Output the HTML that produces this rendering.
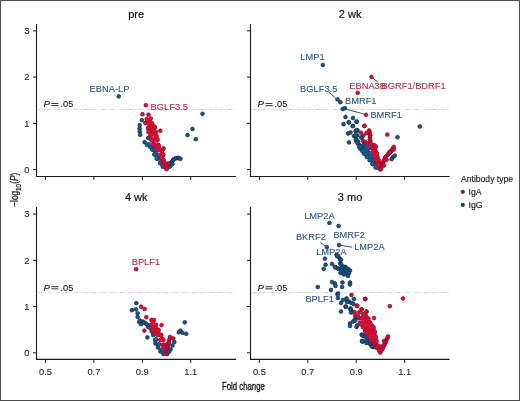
<!DOCTYPE html>
<html><head><meta charset="utf-8"><style>
html,body{margin:0;padding:0;background:#fff;}
body{width:520px;height:401px;overflow:hidden;position:relative;}
svg{display:block;will-change:transform;filter:blur(0.3px);font-family:"Liberation Sans",sans-serif;}
.frame{position:absolute;left:0;top:0;width:518px;height:399px;border:1px solid #4d4d4d;pointer-events:none;}
</style></head><body>
<svg width="520" height="401" viewBox="0 0 520 401">
<rect x="0" y="0" width="520" height="401" fill="#fff"/>
<text x="136.2" y="18.3" font-size="11" text-anchor="middle" fill="#111" stroke="#111" stroke-width="0.2">pre</text>
<text x="350.1" y="18.3" font-size="11" text-anchor="middle" fill="#111" stroke="#111" stroke-width="0.2">2 wk</text>
<text x="136.2" y="200.6" font-size="11" text-anchor="middle" fill="#111" stroke="#111" stroke-width="0.2">4 wk</text>
<text x="350.1" y="200.6" font-size="11" text-anchor="middle" fill="#111" stroke="#111" stroke-width="0.2">3 mo</text>
<line x1="38.5" x2="236" y1="109.43" y2="109.43" stroke="#c4c4c4" stroke-width="0.8" stroke-dasharray="4 2 1 2"/>
<text x="43.4" y="107.4" font-size="9.6" fill="#222" stroke="#222" stroke-width="0.12"><tspan font-style="italic">P</tspan></text>
<rect x="51.4" y="103.03" width="7" height="1.0" fill="#333"/><rect x="51.4" y="105.13" width="7" height="1.0" fill="#333"/>
<text x="60.5" y="107.4" font-size="9.2" fill="#222" stroke="#222" stroke-width="0.12">.05</text>
<line x1="252.5" x2="449.6" y1="109.43" y2="109.43" stroke="#c4c4c4" stroke-width="0.8" stroke-dasharray="4 2 1 2"/>
<text x="257.4" y="107.4" font-size="9.6" fill="#222" stroke="#222" stroke-width="0.12"><tspan font-style="italic">P</tspan></text>
<rect x="265.4" y="103.03" width="7" height="1.0" fill="#333"/><rect x="265.4" y="105.13" width="7" height="1.0" fill="#333"/>
<text x="274.5" y="107.4" font-size="9.2" fill="#222" stroke="#222" stroke-width="0.12">.05</text>
<line x1="38.5" x2="236" y1="292.63" y2="292.63" stroke="#c4c4c4" stroke-width="0.8" stroke-dasharray="4 2 1 2"/>
<text x="43.4" y="290.6" font-size="9.6" fill="#222" stroke="#222" stroke-width="0.12"><tspan font-style="italic">P</tspan></text>
<rect x="51.4" y="286.23" width="7" height="1.0" fill="#333"/><rect x="51.4" y="288.33" width="7" height="1.0" fill="#333"/>
<text x="60.5" y="290.6" font-size="9.2" fill="#222" stroke="#222" stroke-width="0.12">.05</text>
<line x1="252.5" x2="449.6" y1="292.63" y2="292.63" stroke="#c4c4c4" stroke-width="0.8" stroke-dasharray="4 2 1 2"/>
<text x="257.4" y="290.6" font-size="9.6" fill="#222" stroke="#222" stroke-width="0.12"><tspan font-style="italic">P</tspan></text>
<rect x="265.4" y="286.23" width="7" height="1.0" fill="#333"/><rect x="265.4" y="288.33" width="7" height="1.0" fill="#333"/>
<text x="274.5" y="290.6" font-size="9.2" fill="#222" stroke="#222" stroke-width="0.12">.05</text>
<path d="M36.5 24 V176.5 H236" fill="none" stroke="#1a1a1a" stroke-width="1.1"/>
<line x1="33.0" x2="36.5" y1="169.60" y2="169.60" stroke="#1a1a1a" stroke-width="1"/>
<text x="29.3" y="172.90" font-size="9.3" text-anchor="end" fill="#222" stroke="#222" stroke-width="0.1">0</text>
<line x1="33.0" x2="36.5" y1="123.35" y2="123.35" stroke="#1a1a1a" stroke-width="1"/>
<text x="29.3" y="126.65" font-size="9.3" text-anchor="end" fill="#222" stroke="#222" stroke-width="0.1">1</text>
<line x1="33.0" x2="36.5" y1="77.10" y2="77.10" stroke="#1a1a1a" stroke-width="1"/>
<text x="29.3" y="80.40" font-size="9.3" text-anchor="end" fill="#222" stroke="#222" stroke-width="0.1">2</text>
<line x1="33.0" x2="36.5" y1="30.85" y2="30.85" stroke="#1a1a1a" stroke-width="1"/>
<text x="29.3" y="34.15" font-size="9.3" text-anchor="end" fill="#222" stroke="#222" stroke-width="0.1">3</text>
<line x1="45.50" x2="45.50" y1="176.5" y2="180.0" stroke="#1a1a1a" stroke-width="1"/>
<line x1="93.90" x2="93.90" y1="176.5" y2="180.0" stroke="#1a1a1a" stroke-width="1"/>
<line x1="142.30" x2="142.30" y1="176.5" y2="180.0" stroke="#1a1a1a" stroke-width="1"/>
<line x1="190.70" x2="190.70" y1="176.5" y2="180.0" stroke="#1a1a1a" stroke-width="1"/>
<path d="M250.5 24 V176.5 H449.6" fill="none" stroke="#1a1a1a" stroke-width="1.1"/>
<line x1="247.0" x2="250.5" y1="169.60" y2="169.60" stroke="#1a1a1a" stroke-width="1"/>
<line x1="247.0" x2="250.5" y1="123.35" y2="123.35" stroke="#1a1a1a" stroke-width="1"/>
<line x1="247.0" x2="250.5" y1="77.10" y2="77.10" stroke="#1a1a1a" stroke-width="1"/>
<line x1="247.0" x2="250.5" y1="30.85" y2="30.85" stroke="#1a1a1a" stroke-width="1"/>
<line x1="259.40" x2="259.40" y1="176.5" y2="180.0" stroke="#1a1a1a" stroke-width="1"/>
<line x1="307.80" x2="307.80" y1="176.5" y2="180.0" stroke="#1a1a1a" stroke-width="1"/>
<line x1="356.20" x2="356.20" y1="176.5" y2="180.0" stroke="#1a1a1a" stroke-width="1"/>
<line x1="404.60" x2="404.60" y1="176.5" y2="180.0" stroke="#1a1a1a" stroke-width="1"/>
<path d="M36.5 207 V359.4 H236" fill="none" stroke="#1a1a1a" stroke-width="1.1"/>
<line x1="33.0" x2="36.5" y1="352.80" y2="352.80" stroke="#1a1a1a" stroke-width="1"/>
<text x="29.3" y="356.10" font-size="9.3" text-anchor="end" fill="#222" stroke="#222" stroke-width="0.1">0</text>
<line x1="33.0" x2="36.5" y1="306.55" y2="306.55" stroke="#1a1a1a" stroke-width="1"/>
<text x="29.3" y="309.85" font-size="9.3" text-anchor="end" fill="#222" stroke="#222" stroke-width="0.1">1</text>
<line x1="33.0" x2="36.5" y1="260.30" y2="260.30" stroke="#1a1a1a" stroke-width="1"/>
<text x="29.3" y="263.60" font-size="9.3" text-anchor="end" fill="#222" stroke="#222" stroke-width="0.1">2</text>
<line x1="33.0" x2="36.5" y1="214.05" y2="214.05" stroke="#1a1a1a" stroke-width="1"/>
<text x="29.3" y="217.35" font-size="9.3" text-anchor="end" fill="#222" stroke="#222" stroke-width="0.1">3</text>
<line x1="45.50" x2="45.50" y1="359.4" y2="362.9" stroke="#1a1a1a" stroke-width="1"/>
<text x="45.50" y="374.80" font-size="9.3" text-anchor="middle" fill="#222" stroke="#222" stroke-width="0.1">0.5</text>
<line x1="93.90" x2="93.90" y1="359.4" y2="362.9" stroke="#1a1a1a" stroke-width="1"/>
<text x="93.90" y="374.80" font-size="9.3" text-anchor="middle" fill="#222" stroke="#222" stroke-width="0.1">0.7</text>
<line x1="142.30" x2="142.30" y1="359.4" y2="362.9" stroke="#1a1a1a" stroke-width="1"/>
<text x="142.30" y="374.80" font-size="9.3" text-anchor="middle" fill="#222" stroke="#222" stroke-width="0.1">0.9</text>
<line x1="190.70" x2="190.70" y1="359.4" y2="362.9" stroke="#1a1a1a" stroke-width="1"/>
<text x="190.70" y="374.80" font-size="9.3" text-anchor="middle" fill="#222" stroke="#222" stroke-width="0.1">1.1</text>
<path d="M250.5 207 V359.4 H449.6" fill="none" stroke="#1a1a1a" stroke-width="1.1"/>
<line x1="247.0" x2="250.5" y1="352.80" y2="352.80" stroke="#1a1a1a" stroke-width="1"/>
<line x1="247.0" x2="250.5" y1="306.55" y2="306.55" stroke="#1a1a1a" stroke-width="1"/>
<line x1="247.0" x2="250.5" y1="260.30" y2="260.30" stroke="#1a1a1a" stroke-width="1"/>
<line x1="247.0" x2="250.5" y1="214.05" y2="214.05" stroke="#1a1a1a" stroke-width="1"/>
<line x1="259.40" x2="259.40" y1="359.4" y2="362.9" stroke="#1a1a1a" stroke-width="1"/>
<text x="259.40" y="374.80" font-size="9.3" text-anchor="middle" fill="#222" stroke="#222" stroke-width="0.1">0.5</text>
<line x1="307.80" x2="307.80" y1="359.4" y2="362.9" stroke="#1a1a1a" stroke-width="1"/>
<text x="307.80" y="374.80" font-size="9.3" text-anchor="middle" fill="#222" stroke="#222" stroke-width="0.1">0.7</text>
<line x1="356.20" x2="356.20" y1="359.4" y2="362.9" stroke="#1a1a1a" stroke-width="1"/>
<text x="356.20" y="374.80" font-size="9.3" text-anchor="middle" fill="#222" stroke="#222" stroke-width="0.1">0.9</text>
<line x1="404.60" x2="404.60" y1="359.4" y2="362.9" stroke="#1a1a1a" stroke-width="1"/>
<text x="404.60" y="374.80" font-size="9.3" text-anchor="middle" fill="#222" stroke="#222" stroke-width="0.1">1.1</text>
<text x="243.4" y="390.2" font-size="10" text-anchor="middle" fill="#1a1a1a" stroke="#1a1a1a" stroke-width="0.35" transform="translate(243.4 0) scale(0.78 1) translate(-243.4 0)">Fold change</text>
<g transform="translate(18.0 189.8) rotate(-90)"><text x="0" y="0" font-size="10.3" text-anchor="middle" fill="#1a1a1a" stroke="#1a1a1a" stroke-width="0.3" transform="scale(0.8 1)">−log<tspan font-size="8" dy="2.6">10</tspan><tspan dy="-2.6">(</tspan><tspan font-style="italic">P</tspan>)</text></g>
<text x="461" y="181.5" font-size="8.6" fill="#1a1a1a" stroke="#1a1a1a" stroke-width="0.15">Antibody type</text>
<circle cx="462.8" cy="191.8" r="2.1" fill="#9e1030"/>
<text x="468.5" y="194.6" font-size="8.8" fill="#1a1a1a" stroke="#1a1a1a" stroke-width="0.12">IgA</text>
<circle cx="462.8" cy="204.9" r="2.1" fill="#173f62"/>
<text x="468.5" y="207.6" font-size="8.8" fill="#1a1a1a" stroke="#1a1a1a" stroke-width="0.12">IgG</text>
<circle cx="118.7" cy="96.3" r="1.90" fill="#1c5487" stroke="#10304e" stroke-width="0.7"/>
<circle cx="202.5" cy="113.8" r="1.90" fill="#1c5487" stroke="#10304e" stroke-width="0.7"/>
<circle cx="192.5" cy="129" r="1.90" fill="#1c5487" stroke="#10304e" stroke-width="0.7"/>
<circle cx="187.5" cy="135" r="1.90" fill="#1c5487" stroke="#10304e" stroke-width="0.7"/>
<circle cx="195.8" cy="139.2" r="1.90" fill="#1c5487" stroke="#10304e" stroke-width="0.7"/>
<circle cx="141.9" cy="120.2" r="1.90" fill="#1c5487" stroke="#10304e" stroke-width="0.7"/>
<circle cx="139.7" cy="125.2" r="1.90" fill="#1c5487" stroke="#10304e" stroke-width="0.7"/>
<circle cx="139.6" cy="128.5" r="1.90" fill="#1c5487" stroke="#10304e" stroke-width="0.7"/>
<circle cx="139.8" cy="131.7" r="1.90" fill="#1c5487" stroke="#10304e" stroke-width="0.7"/>
<circle cx="140.2" cy="134.8" r="1.90" fill="#1c5487" stroke="#10304e" stroke-width="0.7"/>
<circle cx="148.2" cy="138" r="1.90" fill="#1c5487" stroke="#10304e" stroke-width="0.7"/>
<circle cx="144.6" cy="142.2" r="1.90" fill="#1c5487" stroke="#10304e" stroke-width="0.7"/>
<circle cx="158.5" cy="158.5" r="1.90" fill="#1d5e94" stroke="#16466f" stroke-width="0.7"/>
<circle cx="153.69" cy="149.8" r="1.90" fill="#1d5e94" stroke="#16466f" stroke-width="0.7"/>
<circle cx="156.8" cy="158.5" r="1.90" fill="#1d5e94" stroke="#16466f" stroke-width="0.7"/>
<circle cx="152.52" cy="146.84" r="1.90" fill="#1d5e94" stroke="#16466f" stroke-width="0.7"/>
<circle cx="162.43" cy="165.32" r="1.90" fill="#1d5e94" stroke="#16466f" stroke-width="0.7"/>
<circle cx="161.2" cy="163.0" r="1.90" fill="#1d5e94" stroke="#16466f" stroke-width="0.7"/>
<circle cx="147.5" cy="144.5" r="1.90" fill="#1d5e94" stroke="#16466f" stroke-width="0.7"/>
<circle cx="154.5" cy="154.5" r="1.90" fill="#1d5e94" stroke="#16466f" stroke-width="0.7"/>
<circle cx="152.15" cy="147.0" r="1.90" fill="#1d5e94" stroke="#16466f" stroke-width="0.7"/>
<circle cx="150.0" cy="147.0" r="1.90" fill="#1d5e94" stroke="#16466f" stroke-width="0.7"/>
<circle cx="161.2" cy="163.0" r="1.90" fill="#1d5e94" stroke="#16466f" stroke-width="0.7"/>
<circle cx="156.3" cy="154.5" r="1.90" fill="#1d5e94" stroke="#16466f" stroke-width="0.7"/>
<circle cx="149.5" cy="144.5" r="1.90" fill="#1d5e94" stroke="#16466f" stroke-width="0.7"/>
<circle cx="156.3" cy="154.5" r="1.90" fill="#1d5e94" stroke="#16466f" stroke-width="0.7"/>
<circle cx="162.8" cy="166.7" r="1.90" fill="#1d5e94" stroke="#16466f" stroke-width="0.7"/>
<circle cx="158.5" cy="158.5" r="1.90" fill="#1d5e94" stroke="#16466f" stroke-width="0.7"/>
<circle cx="154.5" cy="154.5" r="1.90" fill="#1d5e94" stroke="#16466f" stroke-width="0.7"/>
<circle cx="155.46" cy="152.96" r="1.90" fill="#1d5e94" stroke="#16466f" stroke-width="0.7"/>
<circle cx="154.8" cy="149.5" r="1.90" fill="#1d5e94" stroke="#16466f" stroke-width="0.7"/>
<circle cx="152.5" cy="149.5" r="1.90" fill="#1d5e94" stroke="#16466f" stroke-width="0.7"/>
<circle cx="152.5" cy="149.5" r="1.90" fill="#1d5e94" stroke="#16466f" stroke-width="0.7"/>
<circle cx="160.2" cy="163.0" r="1.90" fill="#1d5e94" stroke="#16466f" stroke-width="0.7"/>
<circle cx="146.99" cy="144.99" r="1.90" fill="#1d5e94" stroke="#16466f" stroke-width="0.7"/>
<circle cx="154.8" cy="149.5" r="1.90" fill="#1d5e94" stroke="#16466f" stroke-width="0.7"/>
<circle cx="160.2" cy="163.0" r="1.90" fill="#1d5e94" stroke="#16466f" stroke-width="0.7"/>
<circle cx="156.8" cy="158.5" r="1.90" fill="#1d5e94" stroke="#16466f" stroke-width="0.7"/>
<circle cx="164.0" cy="166.7" r="1.90" fill="#1d5e94" stroke="#16466f" stroke-width="0.7"/>
<circle cx="167.5" cy="167.5" r="1.90" fill="#1c5487" stroke="#10304e" stroke-width="0.7"/>
<circle cx="168.6" cy="165.95" r="1.90" fill="#1c5487" stroke="#10304e" stroke-width="0.7"/>
<circle cx="169.7" cy="164.4" r="1.90" fill="#1c5487" stroke="#10304e" stroke-width="0.7"/>
<circle cx="169.7" cy="164.4" r="1.90" fill="#1c5487" stroke="#10304e" stroke-width="0.7"/>
<circle cx="170.93" cy="162.8" r="1.90" fill="#1c5487" stroke="#10304e" stroke-width="0.7"/>
<circle cx="172.17" cy="161.2" r="1.90" fill="#1c5487" stroke="#10304e" stroke-width="0.7"/>
<circle cx="173.4" cy="159.6" r="1.90" fill="#1c5487" stroke="#10304e" stroke-width="0.7"/>
<circle cx="173.4" cy="159.6" r="1.90" fill="#1c5487" stroke="#10304e" stroke-width="0.7"/>
<circle cx="176.0" cy="158.2" r="1.90" fill="#1c5487" stroke="#10304e" stroke-width="0.7"/>
<circle cx="176.0" cy="158.2" r="1.90" fill="#1c5487" stroke="#10304e" stroke-width="0.7"/>
<circle cx="178.5" cy="158.0" r="1.90" fill="#1c5487" stroke="#10304e" stroke-width="0.7"/>
<circle cx="178.5" cy="158.0" r="1.90" fill="#1c5487" stroke="#10304e" stroke-width="0.7"/>
<circle cx="180.5" cy="158.8" r="1.90" fill="#1c5487" stroke="#10304e" stroke-width="0.7"/>
<circle cx="170.0" cy="166.5" r="1.90" fill="#1c5487" stroke="#10304e" stroke-width="0.7"/>
<circle cx="172.5" cy="164.0" r="1.90" fill="#1c5487" stroke="#10304e" stroke-width="0.7"/>
<circle cx="145.9" cy="105.2" r="1.90" fill="#cc133c" stroke="#8a0c29" stroke-width="0.7"/>
<circle cx="142.5" cy="114.2" r="1.90" fill="#cc133c" stroke="#8a0c29" stroke-width="0.7"/>
<circle cx="148.5" cy="114.7" r="1.90" fill="#cc133c" stroke="#8a0c29" stroke-width="0.7"/>
<circle cx="160.3" cy="130.7" r="1.90" fill="#cc133c" stroke="#8a0c29" stroke-width="0.7"/>
<circle cx="153.88" cy="126.53" r="1.90" fill="#dc1239" stroke="#b00e30" stroke-width="0.7"/>
<circle cx="153.56" cy="139.13" r="1.90" fill="#dc1239" stroke="#b00e30" stroke-width="0.7"/>
<circle cx="164.2" cy="165.0" r="1.90" fill="#dc1239" stroke="#b00e30" stroke-width="0.7"/>
<circle cx="152.46" cy="130.72" r="1.90" fill="#dc1239" stroke="#b00e30" stroke-width="0.7"/>
<circle cx="162.5" cy="160.0" r="1.90" fill="#dc1239" stroke="#b00e30" stroke-width="0.7"/>
<circle cx="145.5" cy="123.0" r="1.90" fill="#dc1239" stroke="#b00e30" stroke-width="0.7"/>
<circle cx="150.8" cy="118.5" r="1.90" fill="#dc1239" stroke="#b00e30" stroke-width="0.7"/>
<circle cx="157.09" cy="138.6" r="1.90" fill="#dc1239" stroke="#b00e30" stroke-width="0.7"/>
<circle cx="150.62" cy="127.24" r="1.90" fill="#dc1239" stroke="#b00e30" stroke-width="0.7"/>
<circle cx="158.3" cy="145.0" r="1.90" fill="#dc1239" stroke="#b00e30" stroke-width="0.7"/>
<circle cx="148.2" cy="128.0" r="1.90" fill="#dc1239" stroke="#b00e30" stroke-width="0.7"/>
<circle cx="166.3" cy="169.0" r="1.90" fill="#dc1239" stroke="#b00e30" stroke-width="0.7"/>
<circle cx="145.5" cy="123.0" r="1.90" fill="#dc1239" stroke="#b00e30" stroke-width="0.7"/>
<circle cx="160.98" cy="150.41" r="1.90" fill="#dc1239" stroke="#b00e30" stroke-width="0.7"/>
<circle cx="158.5" cy="150.0" r="1.90" fill="#dc1239" stroke="#b00e30" stroke-width="0.7"/>
<circle cx="151.17" cy="132.86" r="1.90" fill="#dc1239" stroke="#b00e30" stroke-width="0.7"/>
<circle cx="160.3" cy="155.0" r="1.90" fill="#dc1239" stroke="#b00e30" stroke-width="0.7"/>
<circle cx="149.74" cy="120.69" r="1.90" fill="#dc1239" stroke="#b00e30" stroke-width="0.7"/>
<circle cx="152.37" cy="123.91" r="1.90" fill="#dc1239" stroke="#b00e30" stroke-width="0.7"/>
<circle cx="148.7" cy="132.0" r="1.90" fill="#dc1239" stroke="#b00e30" stroke-width="0.7"/>
<circle cx="147.88" cy="122.07" r="1.90" fill="#dc1239" stroke="#b00e30" stroke-width="0.7"/>
<circle cx="162.5" cy="160.0" r="1.90" fill="#dc1239" stroke="#b00e30" stroke-width="0.7"/>
<circle cx="149.34" cy="124.59" r="1.90" fill="#dc1239" stroke="#b00e30" stroke-width="0.7"/>
<circle cx="151.5" cy="123.0" r="1.90" fill="#dc1239" stroke="#b00e30" stroke-width="0.7"/>
<circle cx="163.42" cy="162.14" r="1.90" fill="#dc1239" stroke="#b00e30" stroke-width="0.7"/>
<circle cx="155.34" cy="135.36" r="1.90" fill="#dc1239" stroke="#b00e30" stroke-width="0.7"/>
<circle cx="157.07" cy="145.02" r="1.90" fill="#dc1239" stroke="#b00e30" stroke-width="0.7"/>
<circle cx="153.47" cy="143.64" r="1.90" fill="#dc1239" stroke="#b00e30" stroke-width="0.7"/>
<circle cx="148.69" cy="129.76" r="1.90" fill="#dc1239" stroke="#b00e30" stroke-width="0.7"/>
<circle cx="146.7" cy="119.0" r="1.90" fill="#dc1239" stroke="#b00e30" stroke-width="0.7"/>
<circle cx="153.66" cy="132.42" r="1.90" fill="#dc1239" stroke="#b00e30" stroke-width="0.7"/>
<circle cx="148.2" cy="128.0" r="1.90" fill="#dc1239" stroke="#b00e30" stroke-width="0.7"/>
<circle cx="153.7" cy="145.0" r="1.90" fill="#dc1239" stroke="#b00e30" stroke-width="0.7"/>
<circle cx="153.7" cy="145.0" r="1.90" fill="#dc1239" stroke="#b00e30" stroke-width="0.7"/>
<circle cx="162.3" cy="150.0" r="1.90" fill="#dc1239" stroke="#b00e30" stroke-width="0.7"/>
<circle cx="154.8" cy="127.5" r="1.90" fill="#dc1239" stroke="#b00e30" stroke-width="0.7"/>
<circle cx="162.38" cy="153.44" r="1.90" fill="#dc1239" stroke="#b00e30" stroke-width="0.7"/>
<circle cx="150.15" cy="136.0" r="1.90" fill="#dc1239" stroke="#b00e30" stroke-width="0.7"/>
<circle cx="163.6" cy="160.0" r="1.90" fill="#dc1239" stroke="#b00e30" stroke-width="0.7"/>
<circle cx="160.3" cy="155.0" r="1.90" fill="#dc1239" stroke="#b00e30" stroke-width="0.7"/>
<circle cx="151.36" cy="134.89" r="1.90" fill="#dc1239" stroke="#b00e30" stroke-width="0.7"/>
<circle cx="162.42" cy="158.97" r="1.90" fill="#dc1239" stroke="#b00e30" stroke-width="0.7"/>
<circle cx="154.98" cy="140.6" r="1.90" fill="#dc1239" stroke="#b00e30" stroke-width="0.7"/>
<circle cx="158.3" cy="145.0" r="1.90" fill="#dc1239" stroke="#b00e30" stroke-width="0.7"/>
<circle cx="163.2" cy="155.0" r="1.90" fill="#dc1239" stroke="#b00e30" stroke-width="0.7"/>
<circle cx="166.7" cy="169.0" r="1.90" fill="#dc1239" stroke="#b00e30" stroke-width="0.7"/>
<circle cx="154.8" cy="127.5" r="1.90" fill="#dc1239" stroke="#b00e30" stroke-width="0.7"/>
<circle cx="156.1" cy="147.5" r="1.90" fill="#dc1239" stroke="#b00e30" stroke-width="0.7"/>
<circle cx="151.5" cy="123.0" r="1.90" fill="#dc1239" stroke="#b00e30" stroke-width="0.7"/>
<circle cx="158.5" cy="150.0" r="1.90" fill="#dc1239" stroke="#b00e30" stroke-width="0.7"/>
<circle cx="157.4" cy="140.0" r="1.90" fill="#dc1239" stroke="#b00e30" stroke-width="0.7"/>
<circle cx="156.6" cy="136.0" r="1.90" fill="#dc1239" stroke="#b00e30" stroke-width="0.7"/>
<circle cx="148.7" cy="132.0" r="1.90" fill="#dc1239" stroke="#b00e30" stroke-width="0.7"/>
<circle cx="164.2" cy="165.0" r="1.90" fill="#dc1239" stroke="#b00e30" stroke-width="0.7"/>
<circle cx="166.04" cy="163.68" r="1.90" fill="#dc1239" stroke="#b00e30" stroke-width="0.7"/>
<circle cx="155.8" cy="132.0" r="1.90" fill="#dc1239" stroke="#b00e30" stroke-width="0.7"/>
<circle cx="157.4" cy="140.0" r="1.90" fill="#dc1239" stroke="#b00e30" stroke-width="0.7"/>
<circle cx="162.3" cy="150.0" r="1.90" fill="#dc1239" stroke="#b00e30" stroke-width="0.7"/>
<circle cx="151.6" cy="140.0" r="1.90" fill="#dc1239" stroke="#b00e30" stroke-width="0.7"/>
<circle cx="163.6" cy="160.0" r="1.90" fill="#dc1239" stroke="#b00e30" stroke-width="0.7"/>
<circle cx="166.3" cy="165.0" r="1.90" fill="#dc1239" stroke="#b00e30" stroke-width="0.7"/>
<circle cx="158.98" cy="146.57" r="1.90" fill="#dc1239" stroke="#b00e30" stroke-width="0.7"/>
<circle cx="166.3" cy="165.0" r="1.90" fill="#dc1239" stroke="#b00e30" stroke-width="0.7"/>
<circle cx="151.6" cy="140.0" r="1.90" fill="#dc1239" stroke="#b00e30" stroke-width="0.7"/>
<circle cx="163.2" cy="155.0" r="1.90" fill="#dc1239" stroke="#b00e30" stroke-width="0.7"/>
<circle cx="155.8" cy="132.0" r="1.90" fill="#dc1239" stroke="#b00e30" stroke-width="0.7"/>
<circle cx="154.8" cy="127.1" r="1.90" fill="#cc133c" stroke="#8a0c29" stroke-width="0.7"/>
<circle cx="163.6" cy="148.3" r="1.90" fill="#cc133c" stroke="#8a0c29" stroke-width="0.7"/>
<circle cx="168.3" cy="163.5" r="1.90" fill="#cc133c" stroke="#8a0c29" stroke-width="0.7"/>
<circle cx="322.9" cy="65.0" r="1.90" fill="#1c5487" stroke="#10304e" stroke-width="0.7"/>
<circle cx="337.5" cy="99.4" r="1.90" fill="#1c5487" stroke="#10304e" stroke-width="0.7"/>
<circle cx="340.4" cy="102.2" r="1.90" fill="#1c5487" stroke="#10304e" stroke-width="0.7"/>
<circle cx="342.7" cy="109" r="1.90" fill="#1c5487" stroke="#10304e" stroke-width="0.7"/>
<circle cx="345" cy="108.2" r="1.90" fill="#1c5487" stroke="#10304e" stroke-width="0.7"/>
<circle cx="345.5" cy="117" r="1.90" fill="#1c5487" stroke="#10304e" stroke-width="0.7"/>
<circle cx="353" cy="118" r="1.90" fill="#1c5487" stroke="#10304e" stroke-width="0.7"/>
<circle cx="349" cy="122.5" r="1.90" fill="#1c5487" stroke="#10304e" stroke-width="0.7"/>
<circle cx="356.8" cy="121.8" r="1.90" fill="#1c5487" stroke="#10304e" stroke-width="0.7"/>
<circle cx="343.5" cy="124.2" r="1.90" fill="#1c5487" stroke="#10304e" stroke-width="0.7"/>
<circle cx="353" cy="125.8" r="1.90" fill="#1c5487" stroke="#10304e" stroke-width="0.7"/>
<circle cx="348.8" cy="122.3" r="1.90" fill="#1c5487" stroke="#10304e" stroke-width="0.7"/>
<circle cx="356.5" cy="121.5" r="1.90" fill="#1c5487" stroke="#10304e" stroke-width="0.7"/>
<circle cx="352.7" cy="126.2" r="1.90" fill="#1c5487" stroke="#10304e" stroke-width="0.7"/>
<circle cx="348" cy="133.5" r="1.90" fill="#1c5487" stroke="#10304e" stroke-width="0.7"/>
<circle cx="350.5" cy="132.5" r="1.90" fill="#1c5487" stroke="#10304e" stroke-width="0.7"/>
<circle cx="355.5" cy="131" r="1.90" fill="#1c5487" stroke="#10304e" stroke-width="0.7"/>
<circle cx="357.5" cy="130.5" r="1.90" fill="#1c5487" stroke="#10304e" stroke-width="0.7"/>
<circle cx="354" cy="136" r="1.90" fill="#1c5487" stroke="#10304e" stroke-width="0.7"/>
<circle cx="349" cy="142.4" r="1.90" fill="#1c5487" stroke="#10304e" stroke-width="0.7"/>
<circle cx="356.5" cy="139.5" r="1.90" fill="#1c5487" stroke="#10304e" stroke-width="0.7"/>
<circle cx="358" cy="143.6" r="1.90" fill="#1c5487" stroke="#10304e" stroke-width="0.7"/>
<circle cx="356.2" cy="140.8" r="1.90" fill="#1c5487" stroke="#10304e" stroke-width="0.7"/>
<circle cx="397.5" cy="137.2" r="1.90" fill="#1c5487" stroke="#10304e" stroke-width="0.7"/>
<circle cx="419.8" cy="126.5" r="1.90" fill="#1c5487" stroke="#10304e" stroke-width="0.7"/>
<circle cx="356.5" cy="130.2" r="1.90" fill="#1c5487" stroke="#10304e" stroke-width="0.7"/>
<circle cx="357.2" cy="135.5" r="1.90" fill="#1c5487" stroke="#10304e" stroke-width="0.7"/>
<circle cx="358" cy="141.5" r="1.90" fill="#1c5487" stroke="#10304e" stroke-width="0.7"/>
<circle cx="359.5" cy="147.4" r="1.90" fill="#1c5487" stroke="#10304e" stroke-width="0.7"/>
<circle cx="363.2" cy="146" r="1.90" fill="#1c5487" stroke="#10304e" stroke-width="0.7"/>
<circle cx="361.7" cy="137.3" r="1.90" fill="#1c5487" stroke="#10304e" stroke-width="0.7"/>
<circle cx="370.5" cy="153.5" r="1.90" fill="#1d5e94" stroke="#16466f" stroke-width="0.7"/>
<circle cx="364.52" cy="148.84" r="1.90" fill="#1d5e94" stroke="#16466f" stroke-width="0.7"/>
<circle cx="365.0" cy="143.0" r="1.90" fill="#1d5e94" stroke="#16466f" stroke-width="0.7"/>
<circle cx="362.1" cy="150.95" r="1.90" fill="#1d5e94" stroke="#16466f" stroke-width="0.7"/>
<circle cx="373.0" cy="160.2" r="1.90" fill="#1d5e94" stroke="#16466f" stroke-width="0.7"/>
<circle cx="375.0" cy="164.0" r="1.90" fill="#1d5e94" stroke="#16466f" stroke-width="0.7"/>
<circle cx="364.0" cy="153.5" r="1.90" fill="#1d5e94" stroke="#16466f" stroke-width="0.7"/>
<circle cx="371.75" cy="156.85" r="1.90" fill="#1d5e94" stroke="#16466f" stroke-width="0.7"/>
<circle cx="362.28" cy="147.76" r="1.90" fill="#1d5e94" stroke="#16466f" stroke-width="0.7"/>
<circle cx="369.8" cy="160.2" r="1.90" fill="#1d5e94" stroke="#16466f" stroke-width="0.7"/>
<circle cx="368.3" cy="148.4" r="1.90" fill="#1d5e94" stroke="#16466f" stroke-width="0.7"/>
<circle cx="360.18" cy="145.75" r="1.90" fill="#1d5e94" stroke="#16466f" stroke-width="0.7"/>
<circle cx="371.64" cy="158.5" r="1.90" fill="#1d5e94" stroke="#16466f" stroke-width="0.7"/>
<circle cx="367.44" cy="151.01" r="1.90" fill="#1d5e94" stroke="#16466f" stroke-width="0.7"/>
<circle cx="359.0" cy="146.0" r="1.90" fill="#1d5e94" stroke="#16466f" stroke-width="0.7"/>
<circle cx="368.49" cy="153.25" r="1.90" fill="#1d5e94" stroke="#16466f" stroke-width="0.7"/>
<circle cx="375.0" cy="164.0" r="1.90" fill="#1d5e94" stroke="#16466f" stroke-width="0.7"/>
<circle cx="373.31" cy="161.92" r="1.90" fill="#1d5e94" stroke="#16466f" stroke-width="0.7"/>
<circle cx="364.0" cy="153.5" r="1.90" fill="#1d5e94" stroke="#16466f" stroke-width="0.7"/>
<circle cx="374.22" cy="163.82" r="1.90" fill="#1d5e94" stroke="#16466f" stroke-width="0.7"/>
<circle cx="360.2" cy="148.4" r="1.90" fill="#1d5e94" stroke="#16466f" stroke-width="0.7"/>
<circle cx="377.0" cy="167.5" r="1.90" fill="#1d5e94" stroke="#16466f" stroke-width="0.7"/>
<circle cx="369.88" cy="156.76" r="1.90" fill="#1d5e94" stroke="#16466f" stroke-width="0.7"/>
<circle cx="366.9" cy="156.85" r="1.90" fill="#1d5e94" stroke="#16466f" stroke-width="0.7"/>
<circle cx="376.56" cy="167.12" r="1.90" fill="#1d5e94" stroke="#16466f" stroke-width="0.7"/>
<circle cx="369.8" cy="160.2" r="1.90" fill="#1d5e94" stroke="#16466f" stroke-width="0.7"/>
<circle cx="373.0" cy="160.2" r="1.90" fill="#1d5e94" stroke="#16466f" stroke-width="0.7"/>
<circle cx="370.5" cy="153.5" r="1.90" fill="#1d5e94" stroke="#16466f" stroke-width="0.7"/>
<circle cx="360.2" cy="148.4" r="1.90" fill="#1d5e94" stroke="#16466f" stroke-width="0.7"/>
<circle cx="363.31" cy="150.68" r="1.90" fill="#1d5e94" stroke="#16466f" stroke-width="0.7"/>
<circle cx="363.47" cy="145.83" r="1.90" fill="#1d5e94" stroke="#16466f" stroke-width="0.7"/>
<circle cx="365.67" cy="153.71" r="1.90" fill="#1d5e94" stroke="#16466f" stroke-width="0.7"/>
<circle cx="372.5" cy="164.0" r="1.90" fill="#1d5e94" stroke="#16466f" stroke-width="0.7"/>
<circle cx="366.94" cy="156.94" r="1.90" fill="#1d5e94" stroke="#16466f" stroke-width="0.7"/>
<circle cx="368.3" cy="148.4" r="1.90" fill="#1d5e94" stroke="#16466f" stroke-width="0.7"/>
<circle cx="375.5" cy="167.5" r="1.90" fill="#1d5e94" stroke="#16466f" stroke-width="0.7"/>
<circle cx="366.65" cy="145.7" r="1.90" fill="#1d5e94" stroke="#16466f" stroke-width="0.7"/>
<circle cx="372.5" cy="164.0" r="1.90" fill="#1d5e94" stroke="#16466f" stroke-width="0.7"/>
<circle cx="392.8" cy="157.2" r="1.90" fill="#1c5487" stroke="#10304e" stroke-width="0.7"/>
<circle cx="394.8" cy="155.6" r="1.90" fill="#1c5487" stroke="#10304e" stroke-width="0.7"/>
<circle cx="391.6" cy="159.2" r="1.90" fill="#1c5487" stroke="#10304e" stroke-width="0.7"/>
<circle cx="371.5" cy="77" r="1.90" fill="#cc133c" stroke="#8a0c29" stroke-width="0.7"/>
<circle cx="357.7" cy="92.8" r="1.90" fill="#cc133c" stroke="#8a0c29" stroke-width="0.7"/>
<circle cx="366" cy="114.8" r="1.90" fill="#cc133c" stroke="#8a0c29" stroke-width="0.7"/>
<circle cx="364.4" cy="125.9" r="1.90" fill="#cc133c" stroke="#8a0c29" stroke-width="0.7"/>
<circle cx="387.3" cy="134.6" r="1.90" fill="#cc133c" stroke="#8a0c29" stroke-width="0.7"/>
<circle cx="374.0" cy="145.0" r="1.90" fill="#dc1239" stroke="#b00e30" stroke-width="0.7"/>
<circle cx="380.8" cy="169.0" r="1.90" fill="#dc1239" stroke="#b00e30" stroke-width="0.7"/>
<circle cx="374.2" cy="154.0" r="1.90" fill="#dc1239" stroke="#b00e30" stroke-width="0.7"/>
<circle cx="375.0" cy="148.4" r="1.90" fill="#dc1239" stroke="#b00e30" stroke-width="0.7"/>
<circle cx="377.7" cy="157.1" r="1.90" fill="#dc1239" stroke="#b00e30" stroke-width="0.7"/>
<circle cx="376.44" cy="158.19" r="1.90" fill="#dc1239" stroke="#b00e30" stroke-width="0.7"/>
<circle cx="376.8" cy="154.0" r="1.90" fill="#dc1239" stroke="#b00e30" stroke-width="0.7"/>
<circle cx="375.73" cy="152.0" r="1.90" fill="#dc1239" stroke="#b00e30" stroke-width="0.7"/>
<circle cx="378.6" cy="160.2" r="1.90" fill="#dc1239" stroke="#b00e30" stroke-width="0.7"/>
<circle cx="375.9" cy="151.2" r="1.90" fill="#dc1239" stroke="#b00e30" stroke-width="0.7"/>
<circle cx="371.29" cy="144.68" r="1.90" fill="#dc1239" stroke="#b00e30" stroke-width="0.7"/>
<circle cx="374.2" cy="154.0" r="1.90" fill="#dc1239" stroke="#b00e30" stroke-width="0.7"/>
<circle cx="379.56" cy="163.26" r="1.90" fill="#dc1239" stroke="#b00e30" stroke-width="0.7"/>
<circle cx="372.72" cy="146.98" r="1.90" fill="#dc1239" stroke="#b00e30" stroke-width="0.7"/>
<circle cx="376.91" cy="153.78" r="1.90" fill="#dc1239" stroke="#b00e30" stroke-width="0.7"/>
<circle cx="375.3" cy="157.1" r="1.90" fill="#dc1239" stroke="#b00e30" stroke-width="0.7"/>
<circle cx="377.45" cy="162.6" r="1.90" fill="#dc1239" stroke="#b00e30" stroke-width="0.7"/>
<circle cx="375.43" cy="156.08" r="1.90" fill="#dc1239" stroke="#b00e30" stroke-width="0.7"/>
<circle cx="377.77" cy="161.1" r="1.90" fill="#dc1239" stroke="#b00e30" stroke-width="0.7"/>
<circle cx="376.4" cy="160.2" r="1.90" fill="#dc1239" stroke="#b00e30" stroke-width="0.7"/>
<circle cx="380.3" cy="165.0" r="1.90" fill="#dc1239" stroke="#b00e30" stroke-width="0.7"/>
<circle cx="380.2" cy="169.0" r="1.90" fill="#dc1239" stroke="#b00e30" stroke-width="0.7"/>
<circle cx="380.3" cy="165.0" r="1.90" fill="#dc1239" stroke="#b00e30" stroke-width="0.7"/>
<circle cx="378.5" cy="165.0" r="1.90" fill="#dc1239" stroke="#b00e30" stroke-width="0.7"/>
<circle cx="373.75" cy="149.42" r="1.90" fill="#dc1239" stroke="#b00e30" stroke-width="0.7"/>
<circle cx="372.0" cy="148.4" r="1.90" fill="#dc1239" stroke="#b00e30" stroke-width="0.7"/>
<circle cx="375.0" cy="148.4" r="1.90" fill="#dc1239" stroke="#b00e30" stroke-width="0.7"/>
<circle cx="376.8" cy="154.0" r="1.90" fill="#dc1239" stroke="#b00e30" stroke-width="0.7"/>
<circle cx="378.5" cy="165.0" r="1.90" fill="#dc1239" stroke="#b00e30" stroke-width="0.7"/>
<circle cx="378.6" cy="160.2" r="1.90" fill="#dc1239" stroke="#b00e30" stroke-width="0.7"/>
<circle cx="371.5" cy="145.0" r="1.90" fill="#dc1239" stroke="#b00e30" stroke-width="0.7"/>
<circle cx="372.0" cy="148.4" r="1.90" fill="#dc1239" stroke="#b00e30" stroke-width="0.7"/>
<circle cx="373.1" cy="151.2" r="1.90" fill="#dc1239" stroke="#b00e30" stroke-width="0.7"/>
<circle cx="376.4" cy="160.2" r="1.90" fill="#dc1239" stroke="#b00e30" stroke-width="0.7"/>
<circle cx="369.2" cy="130.4" r="1.90" fill="#cc133c" stroke="#8a0c29" stroke-width="0.7"/>
<circle cx="369.65" cy="132.7" r="1.90" fill="#cc133c" stroke="#8a0c29" stroke-width="0.7"/>
<circle cx="370.1" cy="135.0" r="1.90" fill="#cc133c" stroke="#8a0c29" stroke-width="0.7"/>
<circle cx="370.1" cy="135.0" r="1.90" fill="#cc133c" stroke="#8a0c29" stroke-width="0.7"/>
<circle cx="370.1" cy="137.35" r="1.90" fill="#cc133c" stroke="#8a0c29" stroke-width="0.7"/>
<circle cx="370.1" cy="139.7" r="1.90" fill="#cc133c" stroke="#8a0c29" stroke-width="0.7"/>
<circle cx="370.1" cy="139.7" r="1.90" fill="#cc133c" stroke="#8a0c29" stroke-width="0.7"/>
<circle cx="370.4" cy="141.85" r="1.90" fill="#cc133c" stroke="#8a0c29" stroke-width="0.7"/>
<circle cx="370.7" cy="144.0" r="1.90" fill="#cc133c" stroke="#8a0c29" stroke-width="0.7"/>
<circle cx="360.8" cy="132.6" r="1.90" fill="#cc133c" stroke="#8a0c29" stroke-width="0.7"/>
<circle cx="363.5" cy="135.3" r="1.90" fill="#cc133c" stroke="#8a0c29" stroke-width="0.7"/>
<circle cx="363" cy="140.8" r="1.90" fill="#cc133c" stroke="#8a0c29" stroke-width="0.7"/>
<circle cx="365.2" cy="141.9" r="1.90" fill="#cc133c" stroke="#8a0c29" stroke-width="0.7"/>
<circle cx="367.5" cy="143.5" r="1.90" fill="#cc133c" stroke="#8a0c29" stroke-width="0.7"/>
<circle cx="366.5" cy="133" r="1.90" fill="#cc133c" stroke="#8a0c29" stroke-width="0.7"/>
<circle cx="364.4" cy="125.9" r="1.90" fill="#cc133c" stroke="#8a0c29" stroke-width="0.7"/>
<circle cx="376" cy="146.4" r="1.90" fill="#cc133c" stroke="#8a0c29" stroke-width="0.7"/>
<circle cx="380.4" cy="169.3" r="1.90" fill="#cc133c" stroke="#8a0c29" stroke-width="0.7"/>
<circle cx="361.3" cy="137.5" r="1.90" fill="#1c5487" stroke="#10304e" stroke-width="0.7"/>
<circle cx="363.5" cy="145.2" r="1.90" fill="#1c5487" stroke="#10304e" stroke-width="0.7"/>
<circle cx="361.3" cy="146.9" r="1.90" fill="#1c5487" stroke="#10304e" stroke-width="0.7"/>
<circle cx="355.3" cy="135.3" r="1.90" fill="#1c5487" stroke="#10304e" stroke-width="0.7"/>
<circle cx="355.8" cy="139.2" r="1.90" fill="#1c5487" stroke="#10304e" stroke-width="0.7"/>
<circle cx="357.5" cy="143" r="1.90" fill="#1c5487" stroke="#10304e" stroke-width="0.7"/>
<circle cx="381.0" cy="168.5" r="1.90" fill="#cc133c" stroke="#8a0c29" stroke-width="0.7"/>
<circle cx="381.67" cy="166.5" r="1.90" fill="#cc133c" stroke="#8a0c29" stroke-width="0.7"/>
<circle cx="382.33" cy="164.5" r="1.90" fill="#cc133c" stroke="#8a0c29" stroke-width="0.7"/>
<circle cx="383.0" cy="162.5" r="1.90" fill="#cc133c" stroke="#8a0c29" stroke-width="0.7"/>
<circle cx="383.0" cy="162.5" r="1.90" fill="#cc133c" stroke="#8a0c29" stroke-width="0.7"/>
<circle cx="383.83" cy="160.67" r="1.90" fill="#cc133c" stroke="#8a0c29" stroke-width="0.7"/>
<circle cx="384.67" cy="158.83" r="1.90" fill="#cc133c" stroke="#8a0c29" stroke-width="0.7"/>
<circle cx="385.5" cy="157.0" r="1.90" fill="#cc133c" stroke="#8a0c29" stroke-width="0.7"/>
<circle cx="385.5" cy="157.0" r="1.90" fill="#cc133c" stroke="#8a0c29" stroke-width="0.7"/>
<circle cx="388.0" cy="154.5" r="1.90" fill="#cc133c" stroke="#8a0c29" stroke-width="0.7"/>
<circle cx="388.0" cy="154.5" r="1.90" fill="#cc133c" stroke="#8a0c29" stroke-width="0.7"/>
<circle cx="389.5" cy="153.0" r="1.90" fill="#cc133c" stroke="#8a0c29" stroke-width="0.7"/>
<circle cx="391.0" cy="151.5" r="1.90" fill="#cc133c" stroke="#8a0c29" stroke-width="0.7"/>
<circle cx="391.0" cy="151.5" r="1.90" fill="#cc133c" stroke="#8a0c29" stroke-width="0.7"/>
<circle cx="391.93" cy="149.93" r="1.90" fill="#cc133c" stroke="#8a0c29" stroke-width="0.7"/>
<circle cx="392.87" cy="148.37" r="1.90" fill="#cc133c" stroke="#8a0c29" stroke-width="0.7"/>
<circle cx="393.8" cy="146.8" r="1.90" fill="#cc133c" stroke="#8a0c29" stroke-width="0.7"/>
<circle cx="384" cy="165.5" r="1.90" fill="#cc133c" stroke="#8a0c29" stroke-width="0.7"/>
<circle cx="386.6" cy="159.8" r="1.90" fill="#cc133c" stroke="#8a0c29" stroke-width="0.7"/>
<circle cx="393.8" cy="149.5" r="1.90" fill="#cc133c" stroke="#8a0c29" stroke-width="0.7"/>
<circle cx="389.5" cy="152" r="1.90" fill="#cc133c" stroke="#8a0c29" stroke-width="0.7"/>
<circle cx="136.3" cy="303.2" r="1.90" fill="#1c5487" stroke="#10304e" stroke-width="0.7"/>
<circle cx="131.9" cy="310.2" r="1.90" fill="#1c5487" stroke="#10304e" stroke-width="0.7"/>
<circle cx="135.9" cy="309.3" r="1.90" fill="#1c5487" stroke="#10304e" stroke-width="0.7"/>
<circle cx="137.6" cy="313.3" r="1.90" fill="#1c5487" stroke="#10304e" stroke-width="0.7"/>
<circle cx="137.6" cy="316.8" r="1.90" fill="#1c5487" stroke="#10304e" stroke-width="0.7"/>
<circle cx="139.3" cy="322" r="1.90" fill="#1c5487" stroke="#10304e" stroke-width="0.7"/>
<circle cx="142.8" cy="321.6" r="1.90" fill="#1c5487" stroke="#10304e" stroke-width="0.7"/>
<circle cx="141.1" cy="324.2" r="1.90" fill="#1c5487" stroke="#10304e" stroke-width="0.7"/>
<circle cx="145.5" cy="323.3" r="1.90" fill="#1c5487" stroke="#10304e" stroke-width="0.7"/>
<circle cx="148.1" cy="326.8" r="1.90" fill="#1c5487" stroke="#10304e" stroke-width="0.7"/>
<circle cx="144" cy="322.5" r="1.90" fill="#1c5487" stroke="#10304e" stroke-width="0.7"/>
<circle cx="147" cy="324.5" r="1.90" fill="#1c5487" stroke="#10304e" stroke-width="0.7"/>
<circle cx="150" cy="325.5" r="1.90" fill="#1c5487" stroke="#10304e" stroke-width="0.7"/>
<circle cx="139.8" cy="320.5" r="1.90" fill="#1c5487" stroke="#10304e" stroke-width="0.7"/>
<circle cx="147.4" cy="337.4" r="1.90" fill="#1c5487" stroke="#10304e" stroke-width="0.7"/>
<circle cx="155.5" cy="343.5" r="1.90" fill="#1c5487" stroke="#10304e" stroke-width="0.7"/>
<circle cx="158" cy="347.5" r="1.90" fill="#1c5487" stroke="#10304e" stroke-width="0.7"/>
<circle cx="160.5" cy="351.5" r="1.90" fill="#1c5487" stroke="#10304e" stroke-width="0.7"/>
<circle cx="163.5" cy="354" r="1.90" fill="#1c5487" stroke="#10304e" stroke-width="0.7"/>
<circle cx="184.8" cy="322.3" r="1.90" fill="#1c5487" stroke="#10304e" stroke-width="0.7"/>
<circle cx="180.4" cy="330.7" r="1.90" fill="#1c5487" stroke="#10304e" stroke-width="0.7"/>
<circle cx="178.8" cy="332.3" r="1.90" fill="#1c5487" stroke="#10304e" stroke-width="0.7"/>
<circle cx="182.5" cy="332.8" r="1.90" fill="#1c5487" stroke="#10304e" stroke-width="0.7"/>
<circle cx="186.2" cy="333.8" r="1.90" fill="#1c5487" stroke="#10304e" stroke-width="0.7"/>
<circle cx="158.2" cy="345.0" r="1.90" fill="#1d5e94" stroke="#16466f" stroke-width="0.7"/>
<circle cx="154.0" cy="334.0" r="1.90" fill="#1d5e94" stroke="#16466f" stroke-width="0.7"/>
<circle cx="158.2" cy="345.0" r="1.90" fill="#1d5e94" stroke="#16466f" stroke-width="0.7"/>
<circle cx="151.0" cy="327.0" r="1.90" fill="#1d5e94" stroke="#16466f" stroke-width="0.7"/>
<circle cx="159.0" cy="344.5" r="1.90" fill="#1d5e94" stroke="#16466f" stroke-width="0.7"/>
<circle cx="160.8" cy="350.0" r="1.90" fill="#1d5e94" stroke="#16466f" stroke-width="0.7"/>
<circle cx="153.3" cy="335.0" r="1.90" fill="#1d5e94" stroke="#16466f" stroke-width="0.7"/>
<circle cx="152.5" cy="330.5" r="1.90" fill="#1d5e94" stroke="#16466f" stroke-width="0.7"/>
<circle cx="155.2" cy="340.0" r="1.90" fill="#1d5e94" stroke="#16466f" stroke-width="0.7"/>
<circle cx="151.65" cy="331.5" r="1.90" fill="#1d5e94" stroke="#16466f" stroke-width="0.7"/>
<circle cx="162.0" cy="349.5" r="1.90" fill="#1d5e94" stroke="#16466f" stroke-width="0.7"/>
<circle cx="153.3" cy="335.0" r="1.90" fill="#1d5e94" stroke="#16466f" stroke-width="0.7"/>
<circle cx="156.2" cy="339.5" r="1.90" fill="#1d5e94" stroke="#16466f" stroke-width="0.7"/>
<circle cx="150.0" cy="328.0" r="1.90" fill="#1d5e94" stroke="#16466f" stroke-width="0.7"/>
<circle cx="159.0" cy="344.5" r="1.90" fill="#1d5e94" stroke="#16466f" stroke-width="0.7"/>
<circle cx="153.51" cy="332.99" r="1.90" fill="#1d5e94" stroke="#16466f" stroke-width="0.7"/>
<circle cx="155.2" cy="340.0" r="1.90" fill="#1d5e94" stroke="#16466f" stroke-width="0.7"/>
<circle cx="154.0" cy="334.0" r="1.90" fill="#1d5e94" stroke="#16466f" stroke-width="0.7"/>
<circle cx="151.72" cy="330.02" r="1.90" fill="#1d5e94" stroke="#16466f" stroke-width="0.7"/>
<circle cx="156.2" cy="339.5" r="1.90" fill="#1d5e94" stroke="#16466f" stroke-width="0.7"/>
<circle cx="136.2" cy="269.2" r="1.90" fill="#cc133c" stroke="#8a0c29" stroke-width="0.7"/>
<circle cx="141.1" cy="306.7" r="1.90" fill="#cc133c" stroke="#8a0c29" stroke-width="0.7"/>
<circle cx="144.6" cy="308.9" r="1.90" fill="#cc133c" stroke="#8a0c29" stroke-width="0.7"/>
<circle cx="146.3" cy="317.2" r="1.90" fill="#cc133c" stroke="#8a0c29" stroke-width="0.7"/>
<circle cx="161.6" cy="325.1" r="1.90" fill="#cc133c" stroke="#8a0c29" stroke-width="0.7"/>
<circle cx="144.4" cy="330.6" r="1.90" fill="#cc133c" stroke="#8a0c29" stroke-width="0.7"/>
<circle cx="155.97" cy="328.43" r="1.90" fill="#dc1239" stroke="#b00e30" stroke-width="0.7"/>
<circle cx="154.28" cy="331.16" r="1.90" fill="#dc1239" stroke="#b00e30" stroke-width="0.7"/>
<circle cx="164.7" cy="350.0" r="1.90" fill="#dc1239" stroke="#b00e30" stroke-width="0.7"/>
<circle cx="151.5" cy="325.0" r="1.90" fill="#dc1239" stroke="#b00e30" stroke-width="0.7"/>
<circle cx="151.5" cy="320.0" r="1.90" fill="#dc1239" stroke="#b00e30" stroke-width="0.7"/>
<circle cx="158.5" cy="330.0" r="1.90" fill="#dc1239" stroke="#b00e30" stroke-width="0.7"/>
<circle cx="161.0" cy="335.0" r="1.90" fill="#dc1239" stroke="#b00e30" stroke-width="0.7"/>
<circle cx="151.91" cy="320.45" r="1.90" fill="#dc1239" stroke="#b00e30" stroke-width="0.7"/>
<circle cx="162.77" cy="339.05" r="1.90" fill="#dc1239" stroke="#b00e30" stroke-width="0.7"/>
<circle cx="157.6" cy="335.0" r="1.90" fill="#dc1239" stroke="#b00e30" stroke-width="0.7"/>
<circle cx="164.7" cy="350.0" r="1.90" fill="#dc1239" stroke="#b00e30" stroke-width="0.7"/>
<circle cx="166.8" cy="354.0" r="1.90" fill="#dc1239" stroke="#b00e30" stroke-width="0.7"/>
<circle cx="161.0" cy="335.0" r="1.90" fill="#dc1239" stroke="#b00e30" stroke-width="0.7"/>
<circle cx="153.0" cy="330.0" r="1.90" fill="#dc1239" stroke="#b00e30" stroke-width="0.7"/>
<circle cx="162.8" cy="345.0" r="1.90" fill="#dc1239" stroke="#b00e30" stroke-width="0.7"/>
<circle cx="162.8" cy="345.0" r="1.90" fill="#dc1239" stroke="#b00e30" stroke-width="0.7"/>
<circle cx="158.82" cy="333.5" r="1.90" fill="#dc1239" stroke="#b00e30" stroke-width="0.7"/>
<circle cx="160.5" cy="340.0" r="1.90" fill="#dc1239" stroke="#b00e30" stroke-width="0.7"/>
<circle cx="165.0" cy="345.0" r="1.90" fill="#dc1239" stroke="#b00e30" stroke-width="0.7"/>
<circle cx="156.0" cy="325.0" r="1.90" fill="#dc1239" stroke="#b00e30" stroke-width="0.7"/>
<circle cx="151.5" cy="325.0" r="1.90" fill="#dc1239" stroke="#b00e30" stroke-width="0.7"/>
<circle cx="163.3" cy="340.0" r="1.90" fill="#dc1239" stroke="#b00e30" stroke-width="0.7"/>
<circle cx="153.01" cy="328.42" r="1.90" fill="#dc1239" stroke="#b00e30" stroke-width="0.7"/>
<circle cx="165.0" cy="345.0" r="1.90" fill="#dc1239" stroke="#b00e30" stroke-width="0.7"/>
<circle cx="154.0" cy="320.0" r="1.90" fill="#dc1239" stroke="#b00e30" stroke-width="0.7"/>
<circle cx="161.23" cy="335.78" r="1.90" fill="#dc1239" stroke="#b00e30" stroke-width="0.7"/>
<circle cx="167.43" cy="352.14" r="1.90" fill="#dc1239" stroke="#b00e30" stroke-width="0.7"/>
<circle cx="155.3" cy="332.5" r="1.90" fill="#dc1239" stroke="#b00e30" stroke-width="0.7"/>
<circle cx="156.2" cy="333.68" r="1.90" fill="#dc1239" stroke="#b00e30" stroke-width="0.7"/>
<circle cx="164.38" cy="346.62" r="1.90" fill="#dc1239" stroke="#b00e30" stroke-width="0.7"/>
<circle cx="157.6" cy="335.0" r="1.90" fill="#dc1239" stroke="#b00e30" stroke-width="0.7"/>
<circle cx="153.03" cy="322.35" r="1.90" fill="#dc1239" stroke="#b00e30" stroke-width="0.7"/>
<circle cx="158.5" cy="330.0" r="1.90" fill="#dc1239" stroke="#b00e30" stroke-width="0.7"/>
<circle cx="163.3" cy="340.0" r="1.90" fill="#dc1239" stroke="#b00e30" stroke-width="0.7"/>
<circle cx="156.0" cy="325.0" r="1.90" fill="#dc1239" stroke="#b00e30" stroke-width="0.7"/>
<circle cx="160.5" cy="340.0" r="1.90" fill="#dc1239" stroke="#b00e30" stroke-width="0.7"/>
<circle cx="167.5" cy="350.0" r="1.90" fill="#dc1239" stroke="#b00e30" stroke-width="0.7"/>
<circle cx="153.9" cy="325.6" r="1.90" fill="#dc1239" stroke="#b00e30" stroke-width="0.7"/>
<circle cx="167.0" cy="354.0" r="1.90" fill="#dc1239" stroke="#b00e30" stroke-width="0.7"/>
<circle cx="153.0" cy="330.0" r="1.90" fill="#dc1239" stroke="#b00e30" stroke-width="0.7"/>
<circle cx="167.5" cy="350.0" r="1.90" fill="#dc1239" stroke="#b00e30" stroke-width="0.7"/>
<circle cx="164.88" cy="349.95" r="1.90" fill="#dc1239" stroke="#b00e30" stroke-width="0.7"/>
<circle cx="158.02" cy="330.62" r="1.90" fill="#dc1239" stroke="#b00e30" stroke-width="0.7"/>
<circle cx="166.8" cy="353.5" r="1.90" fill="#cc133c" stroke="#8a0c29" stroke-width="0.7"/>
<circle cx="167.1" cy="351.13" r="1.90" fill="#cc133c" stroke="#8a0c29" stroke-width="0.7"/>
<circle cx="167.4" cy="348.77" r="1.90" fill="#cc133c" stroke="#8a0c29" stroke-width="0.7"/>
<circle cx="167.7" cy="346.4" r="1.90" fill="#cc133c" stroke="#8a0c29" stroke-width="0.7"/>
<circle cx="167.7" cy="346.4" r="1.90" fill="#cc133c" stroke="#8a0c29" stroke-width="0.7"/>
<circle cx="168.18" cy="344.52" r="1.90" fill="#cc133c" stroke="#8a0c29" stroke-width="0.7"/>
<circle cx="168.66" cy="342.64" r="1.90" fill="#cc133c" stroke="#8a0c29" stroke-width="0.7"/>
<circle cx="169.14" cy="340.76" r="1.90" fill="#cc133c" stroke="#8a0c29" stroke-width="0.7"/>
<circle cx="169.62" cy="338.88" r="1.90" fill="#cc133c" stroke="#8a0c29" stroke-width="0.7"/>
<circle cx="170.1" cy="337.0" r="1.90" fill="#cc133c" stroke="#8a0c29" stroke-width="0.7"/>
<circle cx="173.4" cy="338.4" r="1.90" fill="#cc133c" stroke="#8a0c29" stroke-width="0.7"/>
<circle cx="169" cy="342.5" r="1.90" fill="#cc133c" stroke="#8a0c29" stroke-width="0.7"/>
<circle cx="172.5" cy="345.5" r="1.90" fill="#1c5487" stroke="#10304e" stroke-width="0.7"/>
<circle cx="170.6" cy="349.3" r="1.90" fill="#1c5487" stroke="#10304e" stroke-width="0.7"/>
<circle cx="174.3" cy="342" r="1.90" fill="#1c5487" stroke="#10304e" stroke-width="0.7"/>
<circle cx="169.3" cy="351.5" r="1.90" fill="#1c5487" stroke="#10304e" stroke-width="0.7"/>
<circle cx="329.4" cy="222.9" r="1.90" fill="#1c5487" stroke="#10304e" stroke-width="0.7"/>
<circle cx="338.6" cy="226" r="1.90" fill="#1c5487" stroke="#10304e" stroke-width="0.7"/>
<circle cx="326.8" cy="247.1" r="1.90" fill="#1c5487" stroke="#10304e" stroke-width="0.7"/>
<circle cx="339.1" cy="245" r="1.90" fill="#1c5487" stroke="#10304e" stroke-width="0.7"/>
<circle cx="336.5" cy="254.6" r="1.90" fill="#1c5487" stroke="#10304e" stroke-width="0.7"/>
<circle cx="338.7" cy="257.2" r="1.90" fill="#1c5487" stroke="#10304e" stroke-width="0.7"/>
<circle cx="340.2" cy="259.8" r="1.90" fill="#1c5487" stroke="#10304e" stroke-width="0.7"/>
<circle cx="340.6" cy="263.2" r="1.90" fill="#1c5487" stroke="#10304e" stroke-width="0.7"/>
<circle cx="324.9" cy="258.7" r="1.90" fill="#1c5487" stroke="#10304e" stroke-width="0.7"/>
<circle cx="325.6" cy="264.7" r="1.90" fill="#1c5487" stroke="#10304e" stroke-width="0.7"/>
<circle cx="332" cy="264" r="1.90" fill="#1c5487" stroke="#10304e" stroke-width="0.7"/>
<circle cx="323.7" cy="268.8" r="1.90" fill="#1c5487" stroke="#10304e" stroke-width="0.7"/>
<circle cx="335" cy="266.9" r="1.90" fill="#1c5487" stroke="#10304e" stroke-width="0.7"/>
<circle cx="338" cy="268.4" r="1.90" fill="#1c5487" stroke="#10304e" stroke-width="0.7"/>
<circle cx="345.4" cy="266.9" r="1.90" fill="#1c5487" stroke="#10304e" stroke-width="0.7"/>
<circle cx="337" cy="256" r="1.90" fill="#1c5487" stroke="#10304e" stroke-width="0.7"/>
<circle cx="341" cy="259.5" r="1.90" fill="#1c5487" stroke="#10304e" stroke-width="0.7"/>
<circle cx="340.5" cy="264" r="1.90" fill="#1c5487" stroke="#10304e" stroke-width="0.7"/>
<circle cx="335.5" cy="267.5" r="1.90" fill="#1c5487" stroke="#10304e" stroke-width="0.7"/>
<circle cx="338.5" cy="269" r="1.90" fill="#1c5487" stroke="#10304e" stroke-width="0.7"/>
<circle cx="342" cy="270" r="1.90" fill="#1c5487" stroke="#10304e" stroke-width="0.7"/>
<circle cx="345" cy="268" r="1.90" fill="#1c5487" stroke="#10304e" stroke-width="0.7"/>
<circle cx="348" cy="269" r="1.90" fill="#1c5487" stroke="#10304e" stroke-width="0.7"/>
<circle cx="350" cy="270.5" r="1.90" fill="#1c5487" stroke="#10304e" stroke-width="0.7"/>
<circle cx="340.5" cy="273" r="1.90" fill="#1c5487" stroke="#10304e" stroke-width="0.7"/>
<circle cx="346" cy="273.5" r="1.90" fill="#1c5487" stroke="#10304e" stroke-width="0.7"/>
<circle cx="348" cy="276" r="1.90" fill="#1c5487" stroke="#10304e" stroke-width="0.7"/>
<circle cx="343.5" cy="272" r="1.90" fill="#1c5487" stroke="#10304e" stroke-width="0.7"/>
<circle cx="343" cy="266.5" r="1.90" fill="#1c5487" stroke="#10304e" stroke-width="0.7"/>
<circle cx="346.5" cy="271" r="1.90" fill="#1c5487" stroke="#10304e" stroke-width="0.7"/>
<circle cx="344" cy="274.5" r="1.90" fill="#1c5487" stroke="#10304e" stroke-width="0.7"/>
<circle cx="349" cy="273" r="1.90" fill="#1c5487" stroke="#10304e" stroke-width="0.7"/>
<circle cx="341.5" cy="268" r="1.90" fill="#1c5487" stroke="#10304e" stroke-width="0.7"/>
<circle cx="332" cy="282" r="1.90" fill="#1c5487" stroke="#10304e" stroke-width="0.7"/>
<circle cx="335" cy="283.5" r="1.90" fill="#1c5487" stroke="#10304e" stroke-width="0.7"/>
<circle cx="335.5" cy="286" r="1.90" fill="#1c5487" stroke="#10304e" stroke-width="0.7"/>
<circle cx="342.5" cy="282.5" r="1.90" fill="#1c5487" stroke="#10304e" stroke-width="0.7"/>
<circle cx="342" cy="287" r="1.90" fill="#1c5487" stroke="#10304e" stroke-width="0.7"/>
<circle cx="350" cy="282.5" r="1.90" fill="#1c5487" stroke="#10304e" stroke-width="0.7"/>
<circle cx="350" cy="284.5" r="1.90" fill="#1c5487" stroke="#10304e" stroke-width="0.7"/>
<circle cx="317.8" cy="287" r="1.90" fill="#1c5487" stroke="#10304e" stroke-width="0.7"/>
<circle cx="331" cy="290" r="1.90" fill="#1c5487" stroke="#10304e" stroke-width="0.7"/>
<circle cx="338" cy="293.5" r="1.90" fill="#1c5487" stroke="#10304e" stroke-width="0.7"/>
<circle cx="337.5" cy="294.5" r="1.90" fill="#1c5487" stroke="#10304e" stroke-width="0.7"/>
<circle cx="338" cy="298" r="1.90" fill="#1c5487" stroke="#10304e" stroke-width="0.7"/>
<circle cx="343" cy="300" r="1.90" fill="#1c5487" stroke="#10304e" stroke-width="0.7"/>
<circle cx="346.5" cy="298.5" r="1.90" fill="#1c5487" stroke="#10304e" stroke-width="0.7"/>
<circle cx="354" cy="299" r="1.90" fill="#1c5487" stroke="#10304e" stroke-width="0.7"/>
<circle cx="341" cy="303" r="1.90" fill="#1c5487" stroke="#10304e" stroke-width="0.7"/>
<circle cx="349" cy="301.5" r="1.90" fill="#1c5487" stroke="#10304e" stroke-width="0.7"/>
<circle cx="351.5" cy="303" r="1.90" fill="#1c5487" stroke="#10304e" stroke-width="0.7"/>
<circle cx="353.5" cy="304" r="1.90" fill="#1c5487" stroke="#10304e" stroke-width="0.7"/>
<circle cx="345.5" cy="306.5" r="1.90" fill="#1c5487" stroke="#10304e" stroke-width="0.7"/>
<circle cx="341" cy="311.5" r="1.90" fill="#1c5487" stroke="#10304e" stroke-width="0.7"/>
<circle cx="350.5" cy="308.5" r="1.90" fill="#1c5487" stroke="#10304e" stroke-width="0.7"/>
<circle cx="351.5" cy="311" r="1.90" fill="#1c5487" stroke="#10304e" stroke-width="0.7"/>
<circle cx="347" cy="302" r="1.90" fill="#1c5487" stroke="#10304e" stroke-width="0.7"/>
<circle cx="346" cy="307" r="1.90" fill="#1c5487" stroke="#10304e" stroke-width="0.7"/>
<circle cx="350.5" cy="309.5" r="1.90" fill="#1c5487" stroke="#10304e" stroke-width="0.7"/>
<circle cx="351" cy="312.5" r="1.90" fill="#1c5487" stroke="#10304e" stroke-width="0.7"/>
<circle cx="355" cy="319" r="1.90" fill="#1c5487" stroke="#10304e" stroke-width="0.7"/>
<circle cx="359" cy="318" r="1.90" fill="#1c5487" stroke="#10304e" stroke-width="0.7"/>
<circle cx="353" cy="321.5" r="1.90" fill="#1c5487" stroke="#10304e" stroke-width="0.7"/>
<circle cx="350" cy="323.5" r="1.90" fill="#1c5487" stroke="#10304e" stroke-width="0.7"/>
<circle cx="350" cy="326" r="1.90" fill="#1c5487" stroke="#10304e" stroke-width="0.7"/>
<circle cx="356.5" cy="327" r="1.90" fill="#1c5487" stroke="#10304e" stroke-width="0.7"/>
<circle cx="357" cy="317" r="1.90" fill="#1c5487" stroke="#10304e" stroke-width="0.7"/>
<circle cx="362" cy="335" r="1.90" fill="#1c5487" stroke="#10304e" stroke-width="0.7"/>
<circle cx="363.5" cy="336" r="1.90" fill="#1c5487" stroke="#10304e" stroke-width="0.7"/>
<circle cx="362" cy="341" r="1.90" fill="#1c5487" stroke="#10304e" stroke-width="0.7"/>
<circle cx="369" cy="343" r="1.90" fill="#1c5487" stroke="#10304e" stroke-width="0.7"/>
<circle cx="361.7" cy="334.6" r="1.90" fill="#1c5487" stroke="#10304e" stroke-width="0.7"/>
<circle cx="362.6" cy="341.6" r="1.90" fill="#1c5487" stroke="#10304e" stroke-width="0.7"/>
<circle cx="369.6" cy="343.3" r="1.90" fill="#1c5487" stroke="#10304e" stroke-width="0.7"/>
<circle cx="371.8" cy="345" r="1.90" fill="#1c5487" stroke="#10304e" stroke-width="0.7"/>
<circle cx="373.5" cy="347" r="1.90" fill="#1c5487" stroke="#10304e" stroke-width="0.7"/>
<circle cx="351.5" cy="295" r="1.90" fill="#cc133c" stroke="#8a0c29" stroke-width="0.7"/>
<circle cx="365" cy="299" r="1.90" fill="#cc133c" stroke="#8a0c29" stroke-width="0.7"/>
<circle cx="357" cy="306" r="1.90" fill="#cc133c" stroke="#8a0c29" stroke-width="0.7"/>
<circle cx="361.5" cy="309.5" r="1.90" fill="#cc133c" stroke="#8a0c29" stroke-width="0.7"/>
<circle cx="366.5" cy="311.5" r="1.90" fill="#cc133c" stroke="#8a0c29" stroke-width="0.7"/>
<circle cx="354.5" cy="312" r="1.90" fill="#cc133c" stroke="#8a0c29" stroke-width="0.7"/>
<circle cx="355" cy="315" r="1.90" fill="#cc133c" stroke="#8a0c29" stroke-width="0.7"/>
<circle cx="374" cy="318" r="1.90" fill="#cc133c" stroke="#8a0c29" stroke-width="0.7"/>
<circle cx="403" cy="298.5" r="1.90" fill="#cc133c" stroke="#8a0c29" stroke-width="0.7"/>
<circle cx="389.8" cy="306.2" r="1.90" fill="#cc133c" stroke="#8a0c29" stroke-width="0.7"/>
<circle cx="365.5" cy="299" r="1.90" fill="#cc133c" stroke="#8a0c29" stroke-width="0.7"/>
<circle cx="366.5" cy="312" r="1.90" fill="#cc133c" stroke="#8a0c29" stroke-width="0.7"/>
<circle cx="384" cy="341" r="1.90" fill="#cc133c" stroke="#8a0c29" stroke-width="0.7"/>
<circle cx="357.2" cy="305.6" r="1.90" fill="#cc133c" stroke="#8a0c29" stroke-width="0.7"/>
<circle cx="361.8" cy="309.3" r="1.90" fill="#cc133c" stroke="#8a0c29" stroke-width="0.7"/>
<circle cx="359" cy="312.5" r="1.90" fill="#cc133c" stroke="#8a0c29" stroke-width="0.7"/>
<circle cx="363" cy="314" r="1.90" fill="#cc133c" stroke="#8a0c29" stroke-width="0.7"/>
<circle cx="358" cy="316.5" r="1.90" fill="#cc133c" stroke="#8a0c29" stroke-width="0.7"/>
<circle cx="362" cy="318" r="1.90" fill="#cc133c" stroke="#8a0c29" stroke-width="0.7"/>
<circle cx="366" cy="316" r="1.90" fill="#cc133c" stroke="#8a0c29" stroke-width="0.7"/>
<circle cx="368.5" cy="318.5" r="1.90" fill="#cc133c" stroke="#8a0c29" stroke-width="0.7"/>
<circle cx="367.75" cy="319.5" r="1.90" fill="#dc1239" stroke="#b00e30" stroke-width="0.7"/>
<circle cx="370.58" cy="330.37" r="1.90" fill="#dc1239" stroke="#b00e30" stroke-width="0.7"/>
<circle cx="363.0" cy="327.0" r="1.90" fill="#dc1239" stroke="#b00e30" stroke-width="0.7"/>
<circle cx="365.15" cy="329.63" r="1.90" fill="#dc1239" stroke="#b00e30" stroke-width="0.7"/>
<circle cx="364.4" cy="318.7" r="1.90" fill="#dc1239" stroke="#b00e30" stroke-width="0.7"/>
<circle cx="375.01" cy="343.33" r="1.90" fill="#dc1239" stroke="#b00e30" stroke-width="0.7"/>
<circle cx="365.5" cy="331.5" r="1.90" fill="#dc1239" stroke="#b00e30" stroke-width="0.7"/>
<circle cx="372.29" cy="343.71" r="1.90" fill="#dc1239" stroke="#b00e30" stroke-width="0.7"/>
<circle cx="375.6" cy="336.5" r="1.90" fill="#dc1239" stroke="#b00e30" stroke-width="0.7"/>
<circle cx="369.37" cy="332.0" r="1.90" fill="#dc1239" stroke="#b00e30" stroke-width="0.7"/>
<circle cx="374.62" cy="340.13" r="1.90" fill="#dc1239" stroke="#b00e30" stroke-width="0.7"/>
<circle cx="377.5" cy="345.5" r="1.90" fill="#dc1239" stroke="#b00e30" stroke-width="0.7"/>
<circle cx="373.0" cy="344.0" r="1.90" fill="#dc1239" stroke="#b00e30" stroke-width="0.7"/>
<circle cx="376.5" cy="347.5" r="1.90" fill="#dc1239" stroke="#b00e30" stroke-width="0.7"/>
<circle cx="370.0" cy="322.5" r="1.90" fill="#dc1239" stroke="#b00e30" stroke-width="0.7"/>
<circle cx="366.38" cy="327.87" r="1.90" fill="#dc1239" stroke="#b00e30" stroke-width="0.7"/>
<circle cx="379.5" cy="349.5" r="1.90" fill="#dc1239" stroke="#b00e30" stroke-width="0.7"/>
<circle cx="373.5" cy="330.04" r="1.90" fill="#dc1239" stroke="#b00e30" stroke-width="0.7"/>
<circle cx="371.75" cy="325.25" r="1.90" fill="#dc1239" stroke="#b00e30" stroke-width="0.7"/>
<circle cx="366.25" cy="321.68" r="1.90" fill="#dc1239" stroke="#b00e30" stroke-width="0.7"/>
<circle cx="370.0" cy="322.5" r="1.90" fill="#dc1239" stroke="#b00e30" stroke-width="0.7"/>
<circle cx="365.5" cy="331.5" r="1.90" fill="#dc1239" stroke="#b00e30" stroke-width="0.7"/>
<circle cx="367.25" cy="329.39" r="1.90" fill="#dc1239" stroke="#b00e30" stroke-width="0.7"/>
<circle cx="377.5" cy="345.5" r="1.90" fill="#dc1239" stroke="#b00e30" stroke-width="0.7"/>
<circle cx="375.54" cy="338.5" r="1.90" fill="#dc1239" stroke="#b00e30" stroke-width="0.7"/>
<circle cx="379.5" cy="351.0" r="1.90" fill="#dc1239" stroke="#b00e30" stroke-width="0.7"/>
<circle cx="369.41" cy="327.09" r="1.90" fill="#dc1239" stroke="#b00e30" stroke-width="0.7"/>
<circle cx="374.8" cy="332.0" r="1.90" fill="#dc1239" stroke="#b00e30" stroke-width="0.7"/>
<circle cx="367.64" cy="325.01" r="1.90" fill="#dc1239" stroke="#b00e30" stroke-width="0.7"/>
<circle cx="367.5" cy="336.0" r="1.90" fill="#dc1239" stroke="#b00e30" stroke-width="0.7"/>
<circle cx="366.39" cy="332.43" r="1.90" fill="#dc1239" stroke="#b00e30" stroke-width="0.7"/>
<circle cx="370.32" cy="324.17" r="1.90" fill="#dc1239" stroke="#b00e30" stroke-width="0.7"/>
<circle cx="373.07" cy="326.6" r="1.90" fill="#dc1239" stroke="#b00e30" stroke-width="0.7"/>
<circle cx="373.0" cy="344.0" r="1.90" fill="#dc1239" stroke="#b00e30" stroke-width="0.7"/>
<circle cx="373.5" cy="328.0" r="1.90" fill="#dc1239" stroke="#b00e30" stroke-width="0.7"/>
<circle cx="363.31" cy="321.27" r="1.90" fill="#dc1239" stroke="#b00e30" stroke-width="0.7"/>
<circle cx="375.6" cy="336.5" r="1.90" fill="#dc1239" stroke="#b00e30" stroke-width="0.7"/>
<circle cx="371.17" cy="340.36" r="1.90" fill="#dc1239" stroke="#b00e30" stroke-width="0.7"/>
<circle cx="368.0" cy="335.19" r="1.90" fill="#dc1239" stroke="#b00e30" stroke-width="0.7"/>
<circle cx="376.4" cy="346.27" r="1.90" fill="#dc1239" stroke="#b00e30" stroke-width="0.7"/>
<circle cx="367.5" cy="336.0" r="1.90" fill="#dc1239" stroke="#b00e30" stroke-width="0.7"/>
<circle cx="370.59" cy="335.41" r="1.90" fill="#dc1239" stroke="#b00e30" stroke-width="0.7"/>
<circle cx="368.68" cy="321.88" r="1.90" fill="#dc1239" stroke="#b00e30" stroke-width="0.7"/>
<circle cx="373.5" cy="328.0" r="1.90" fill="#dc1239" stroke="#b00e30" stroke-width="0.7"/>
<circle cx="376.5" cy="347.5" r="1.90" fill="#dc1239" stroke="#b00e30" stroke-width="0.7"/>
<circle cx="376.5" cy="341.0" r="1.90" fill="#dc1239" stroke="#b00e30" stroke-width="0.7"/>
<circle cx="360.0" cy="322.5" r="1.90" fill="#dc1239" stroke="#b00e30" stroke-width="0.7"/>
<circle cx="371.78" cy="332.2" r="1.90" fill="#dc1239" stroke="#b00e30" stroke-width="0.7"/>
<circle cx="364.05" cy="323.98" r="1.90" fill="#dc1239" stroke="#b00e30" stroke-width="0.7"/>
<circle cx="360.9" cy="324.46" r="1.90" fill="#dc1239" stroke="#b00e30" stroke-width="0.7"/>
<circle cx="378.97" cy="348.82" r="1.90" fill="#dc1239" stroke="#b00e30" stroke-width="0.7"/>
<circle cx="369.0" cy="340.0" r="1.90" fill="#dc1239" stroke="#b00e30" stroke-width="0.7"/>
<circle cx="363.0" cy="327.0" r="1.90" fill="#dc1239" stroke="#b00e30" stroke-width="0.7"/>
<circle cx="369.0" cy="340.0" r="1.90" fill="#dc1239" stroke="#b00e30" stroke-width="0.7"/>
<circle cx="372.04" cy="338.08" r="1.90" fill="#dc1239" stroke="#b00e30" stroke-width="0.7"/>
<circle cx="365.5" cy="316.5" r="1.90" fill="#dc1239" stroke="#b00e30" stroke-width="0.7"/>
<circle cx="369.71" cy="338.26" r="1.90" fill="#dc1239" stroke="#b00e30" stroke-width="0.7"/>
<circle cx="373.88" cy="335.01" r="1.90" fill="#dc1239" stroke="#b00e30" stroke-width="0.7"/>
<circle cx="374.8" cy="332.0" r="1.90" fill="#dc1239" stroke="#b00e30" stroke-width="0.7"/>
<circle cx="376.5" cy="341.0" r="1.90" fill="#dc1239" stroke="#b00e30" stroke-width="0.7"/>
<circle cx="380.3" cy="352.5" r="1.90" fill="#cc133c" stroke="#8a0c29" stroke-width="0.7"/>
<circle cx="381.4" cy="350.5" r="1.90" fill="#cc133c" stroke="#8a0c29" stroke-width="0.7"/>
<circle cx="382.5" cy="348.5" r="1.90" fill="#cc133c" stroke="#8a0c29" stroke-width="0.7"/>
<circle cx="382.5" cy="348.5" r="1.90" fill="#cc133c" stroke="#8a0c29" stroke-width="0.7"/>
<circle cx="383.33" cy="346.83" r="1.90" fill="#cc133c" stroke="#8a0c29" stroke-width="0.7"/>
<circle cx="384.17" cy="345.17" r="1.90" fill="#cc133c" stroke="#8a0c29" stroke-width="0.7"/>
<circle cx="385.0" cy="343.5" r="1.90" fill="#cc133c" stroke="#8a0c29" stroke-width="0.7"/>
<circle cx="385.0" cy="343.5" r="1.90" fill="#cc133c" stroke="#8a0c29" stroke-width="0.7"/>
<circle cx="385.75" cy="341.75" r="1.90" fill="#cc133c" stroke="#8a0c29" stroke-width="0.7"/>
<circle cx="386.5" cy="340.0" r="1.90" fill="#cc133c" stroke="#8a0c29" stroke-width="0.7"/>
<circle cx="387.25" cy="338.25" r="1.90" fill="#cc133c" stroke="#8a0c29" stroke-width="0.7"/>
<circle cx="388.0" cy="336.5" r="1.90" fill="#cc133c" stroke="#8a0c29" stroke-width="0.7"/>
<circle cx="379.5" cy="350.0" r="1.90" fill="#cc133c" stroke="#8a0c29" stroke-width="0.7"/>
<circle cx="381.0" cy="346.5" r="1.90" fill="#cc133c" stroke="#8a0c29" stroke-width="0.7"/>
<circle cx="362.8" cy="335.6" r="1.90" fill="#1c5487" stroke="#10304e" stroke-width="0.7"/>
<circle cx="362.8" cy="341.2" r="1.90" fill="#1c5487" stroke="#10304e" stroke-width="0.7"/>
<circle cx="370.3" cy="344" r="1.90" fill="#1c5487" stroke="#10304e" stroke-width="0.7"/>
<circle cx="366.5" cy="343" r="1.90" fill="#1c5487" stroke="#10304e" stroke-width="0.7"/>
<circle cx="355.3" cy="320.6" r="1.90" fill="#1c5487" stroke="#10304e" stroke-width="0.7"/>
<circle cx="357.2" cy="325.3" r="1.90" fill="#1c5487" stroke="#10304e" stroke-width="0.7"/>
<circle cx="371.8" cy="346.5" r="1.90" fill="#1c5487" stroke="#10304e" stroke-width="0.7"/>
<circle cx="367" cy="339.5" r="1.90" fill="#1c5487" stroke="#10304e" stroke-width="0.7"/>
<circle cx="365" cy="336.5" r="1.90" fill="#1c5487" stroke="#10304e" stroke-width="0.7"/>
<text x="89.6" y="91.5" font-size="9.3" fill="#2a5580" stroke="#2a5580" stroke-width="0.1">EBNA-LP</text>
<text x="150.6" y="110.3" font-size="9.3" fill="#bf1f48" stroke="#bf1f48" stroke-width="0.1">BGLF3.5</text>
<text x="300.3" y="59.9" font-size="9.3" fill="#2a5580" stroke="#2a5580" stroke-width="0.1">LMP1</text>
<text x="300.1" y="91.5" font-size="9.3" fill="#2a5580" stroke="#2a5580" stroke-width="0.1">BGLF3.5</text>
<text x="345.0" y="103.8" font-size="9.3" fill="#2a5580" stroke="#2a5580" stroke-width="0.1">BMRF1</text>
<text x="370.4" y="118.3" font-size="9.3" fill="#2a5580" stroke="#2a5580" stroke-width="0.1">BMRF1</text>
<text x="349.3" y="88.7" font-size="9.3" fill="#bf1f48" stroke="#bf1f48" stroke-width="0.1">EBNA3B</text>
<text x="381.6" y="88.6" font-size="9.3" fill="#bf1f48" stroke="#bf1f48" stroke-width="0.1">BGRF1/BDRF1</text>
<text x="131.7" y="265" font-size="9.3" fill="#bf1f48" stroke="#bf1f48" stroke-width="0.1">BPLF1</text>
<text x="304.2" y="218.6" font-size="9.3" fill="#2a5580" stroke="#2a5580" stroke-width="0.1">LMP2A</text>
<text x="333.4" y="237.5" font-size="9.3" fill="#2a5580" stroke="#2a5580" stroke-width="0.1">BMRF2</text>
<text x="295.9" y="240.3" font-size="9.3" fill="#2a5580" stroke="#2a5580" stroke-width="0.1">BKRF2</text>
<text x="354.2" y="250.4" font-size="9.3" fill="#2a5580" stroke="#2a5580" stroke-width="0.1">LMP2A</text>
<text x="316.2" y="254.6" font-size="9.3" fill="#2a5580" stroke="#2a5580" stroke-width="0.1">LMP2A</text>
<text x="305.4" y="301.5" font-size="9.3" fill="#2a5580" stroke="#2a5580" stroke-width="0.1">BPLF1</text>
<line x1="329" y1="92.3" x2="339" y2="101" stroke="#2a5580" stroke-width="1"/>
<line x1="345" y1="109" x2="366" y2="114.5" stroke="#2a5580" stroke-width="1"/>
<line x1="371.5" y1="77" x2="377.7" y2="82" stroke="#cc133c" stroke-width="1"/>
<line x1="320.6" y1="242.5" x2="326.8" y2="247.1" stroke="#2a5580" stroke-width="1"/>
<line x1="339" y1="245.1" x2="352.3" y2="247.2" stroke="#2a5580" stroke-width="1"/>
</svg>
<div class="frame"></div>
</body></html>
